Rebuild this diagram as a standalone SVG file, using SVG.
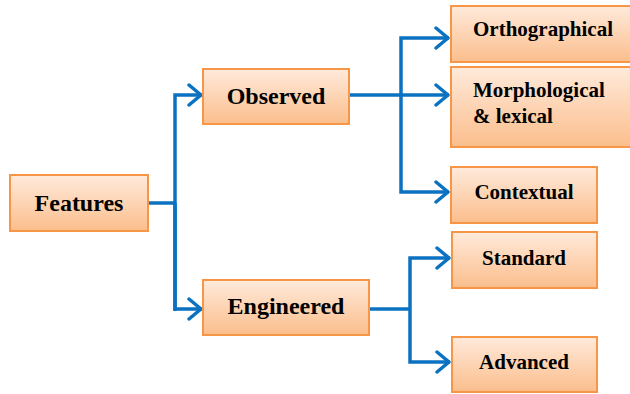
<svg xmlns="http://www.w3.org/2000/svg" width="630" height="394" viewBox="0 0 630 394">
<defs>
<linearGradient id="g" x1="0" y1="0" x2="0" y2="1">
<stop offset="0" stop-color="#FFEADB"/>
<stop offset="1" stop-color="#FBBE8C"/>
</linearGradient>
<marker id="a" viewBox="0 0 16 24" refX="15" refY="12" markerWidth="16" markerHeight="24" markerUnits="userSpaceOnUse" orient="auto">
<path d="M2 2 L14 12 L2 22" fill="none" stroke="#0B72C1" stroke-width="3.5" stroke-linecap="round" stroke-linejoin="round"/>
</marker>
<style>
.box{fill:url(#g);stroke:#F79646;stroke-width:2}
.t{font-family:"Liberation Serif","Times New Roman",serif;font-weight:bold;font-size:21px;fill:#000}
.big{font-size:24px}
.c{text-anchor:middle}
.l{fill:none;stroke:#0B72C1;stroke-width:3.5}
</style>
</defs>
<g id="connectors">
<path class="l" d="M148 203 H175"/>
<path class="l" d="M175 311 V95 H202" marker-end="url(#a)"/>
<path class="l" d="M175 203 V309 H202" marker-end="url(#a)"/>
<path class="l" d="M349 95 H449" marker-end="url(#a)"/>
<path class="l" d="M401 95 V38 H449" marker-end="url(#a)"/>
<path class="l" d="M401 95 V192 H449" marker-end="url(#a)"/>
<path class="l" d="M369 309 H410"/>
<path class="l" d="M410 309 V258 H450" marker-end="url(#a)"/>
<path class="l" d="M410 309 V362 H450" marker-end="url(#a)"/>
</g>
<g id="features"><rect class="box" x="10" y="175" width="138" height="56"/><text class="t big c" x="79" y="211">Features</text></g>
<g id="observed"><rect class="box" x="203" y="69" width="146" height="55"/><text class="t big c" x="276" y="104">Observed</text></g>
<g id="engineered"><rect class="box" x="203" y="280" width="166" height="55"/><text class="t big c" x="286" y="314">Engineered</text></g>
<g id="orthographical"><rect class="box" x="451" y="6" width="185" height="56"/><text class="t" x="473" y="36">Orthographical</text></g>
<g id="morphological"><rect class="box" x="451" y="67" width="185" height="80"/><text class="t" x="473" y="97">Morphological</text><text class="t" x="473" y="123">&amp; lexical</text></g>
<g id="contextual"><rect class="box" x="451" y="167" width="146" height="56"/><text class="t c" x="524" y="199">Contextual</text></g>
<g id="standard"><rect class="box" x="452" y="232" width="145" height="56"/><text class="t c" x="524" y="265">Standard</text></g>
<g id="advanced"><rect class="box" x="452" y="337" width="145" height="55"/><text class="t c" x="524" y="369">Advanced</text></g>
</svg>
